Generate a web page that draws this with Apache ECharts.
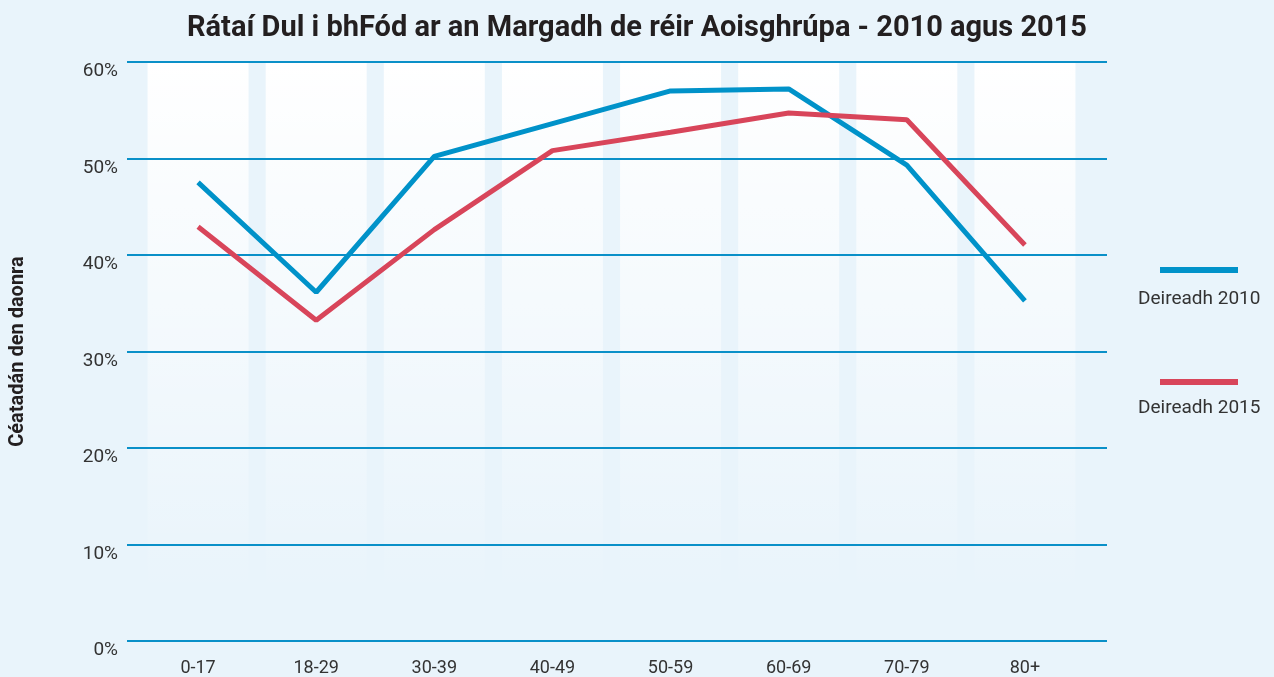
<!DOCTYPE html>
<html>
<head>
<meta charset="utf-8">
<script src="https://cdn.jsdelivr.net/npm/echarts@6/dist/echarts.min.js"></script>
<style>
  html, body { margin: 0; padding: 0; background: #e9f4fb; }
  #chart { width: 1274px; height: 677px; }
</style>
</head>
<body>
<div id="chart"></div>
<script>
// aoisghrúpaí
var ageGroups = ['0-17', '18-29', '30-39', '40-49', '50-59', '60-69', '70-79', '80+'];
// ráta (%) - deireadh 2010 / deireadh 2015
var rate2010 = [47.5, 36.1, 50.2, 53.6, 57.0, 57.2, 49.3, 35.2];
var rate2015 = [42.9, 33.2, 42.6, 50.8, 52.7, 54.7, 54.0, 41.0];
var yTicks = [0, 10, 20, 30, 40, 50, 60];
var seriesNames = ['Deireadh 2010', 'Deireadh 2015'];

var yMax = yTicks[yTicks.length - 1];
var chart = echarts.init(document.getElementById('chart'));

var option = {
  backgroundColor: '#e9f4fb',
  animation: false,
  textStyle: { fontFamily: 'Roboto' },
  title: {
    text: 'Rátaí Dul i bhFód ar an Margadh de réir Aoisghrúpa - 2010 agus 2015',
    left: 'center',
    top: 9,
    textStyle: { fontSize: 29, fontWeight: 'bold', color: '#231f20', fontFamily: 'Roboto' }
  },
  legend: {
    data: seriesNames,
    orient: 'vertical',
    left: 1160,
    top: 267,
    padding: 0,
    itemWidth: 78,
    itemHeight: 6,
    itemGap: 106,
    icon: 'rect',
    formatter: function () { return ''; },
    selectedMode: false
  },
  graphic: [
    { type: 'text', left: 1138, top: 290, style: { text: seriesNames[0], font: '19px Roboto', fill: '#333' } },
    { type: 'text', left: 1138, top: 399, style: { text: seriesNames[1], font: '19px Roboto', fill: '#333' } }
  ],
  grid: [
    { left: 126, right: 167, top: 62, bottom: 36 },
    { left: 139, right: 190, top: 62, bottom: 36 }
  ],
  xAxis: [
    { gridIndex: 0, type: 'category', data: ageGroups, show: false },
    {
      gridIndex: 1, type: 'category', data: ageGroups,
      axisLine: { show: false }, axisTick: { show: false },
      axisLabel: { color: '#333', fontSize: 18, margin: 19 }
    }
  ],
  yAxis: [
    {
      gridIndex: 0, type: 'value', min: 0, max: yMax, interval: 10, z: 3,
      name: 'Céatadán den daonra',
      nameLocation: 'middle', nameRotate: 90, nameGap: 99,
      nameTextStyle: { fontSize: 20, fontWeight: 'bold', color: '#231f20' },
      axisLine: { show: false }, axisTick: { show: false },
      axisLabel: { color: '#333', fontSize: 19, margin: 9, verticalAlign: 'top',
        formatter: '{value}%' },
      splitLine: { lineStyle: { color: '#0a90c8', width: 2 } }
    },
    { gridIndex: 1, type: 'value', min: 0, max: yMax, show: false, splitLine: { show: false } }
  ],
  series: [
    {
      name: 'cúlra',
      type: 'bar',
      xAxisIndex: 1, yAxisIndex: 1,
      data: ageGroups.map(function () { return yMax; }),
      barWidth: 101,
      silent: true,
      z: 1,
      itemStyle: {
        color: new echarts.graphic.LinearGradient(0, 0, 0, 1, [
          { offset: 0, color: 'rgba(255,255,255,1)' },
          { offset: 0.92, color: 'rgba(255,255,255,0)' }
        ])
      }
    },
    {
      name: seriesNames[0],
      type: 'line',
      xAxisIndex: 1, yAxisIndex: 1,
      data: rate2010,
      showSymbol: false,
      z: 5,
      color: '#0092c9',
      lineStyle: { width: 5, color: '#0092c9' }
    },
    {
      name: seriesNames[1],
      type: 'line',
      xAxisIndex: 1, yAxisIndex: 1,
      data: rate2015,
      showSymbol: false,
      z: 5,
      color: '#d8455a',
      lineStyle: { width: 5, color: '#d8455a' }
    }
  ]
};

chart.setOption(option);
</script>
</body>
</html>
